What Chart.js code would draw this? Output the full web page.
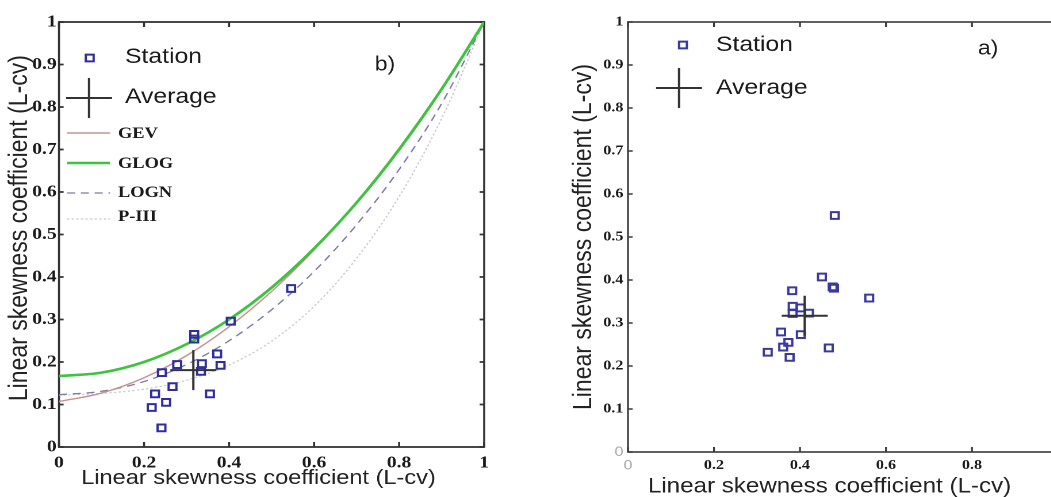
<!DOCTYPE html>
<html>
<head>
<meta charset="utf-8">
<script src="https://cdn.jsdelivr.net/npm/chart.js@4.4.1/dist/chart.umd.min.js"></script>
<style>
  html, body { margin: 0; padding: 0; background: #fff; }
  body { width: 1051px; height: 497px; overflow: hidden; position: relative; }
  /* the original figure is stretched sideways, so the canvases are too */
  canvas { position: absolute; top: 0; transform-origin: 0 0; transform: scaleX(1.15); }
  #chartB { left: 0; }
  #chartA { left: 540px; }
</style>
</head>
<body>
<canvas id="chartB" width="452" height="497"></canvas>
<canvas id="chartA" width="522" height="497"></canvas>
<script>
// theoretical curves of panel b), read every 0.1 along x
const curveX = [0, 0.1, 0.2, 0.3, 0.4, 0.5, 0.6, 0.7, 0.8, 0.9, 1];
const gevY  = [0.107, 0.127, 0.163, 0.215, 0.283, 0.366, 0.464, 0.576, 0.703, 0.844, 1];
const glogY = [0.167, 0.175, 0.200, 0.242, 0.300, 0.375, 0.467, 0.575, 0.700, 0.842, 1];
const lognY = [0.123, 0.131, 0.154, 0.194, 0.250, 0.323, 0.413, 0.523, 0.653, 0.808, 1];
const p3Y   = [0.122, 0.126, 0.136, 0.157, 0.193, 0.249, 0.331, 0.444, 0.589, 0.773, 1];

// stations of panel b)
const stationBx = [0.404, 0.318, 0.318, 0.372, 0.278, 0.336, 0.380, 0.334, 0.242, 0.267, 0.226, 0.355, 0.252, 0.218, 0.241, 0.546];
const stationBy = [0.296, 0.265, 0.254, 0.219, 0.194, 0.196, 0.192, 0.178, 0.175, 0.142, 0.125, 0.125, 0.105, 0.093, 0.045, 0.373];
const averageB = [0.316, 0.181];

// stations of panel a)
const stationAx = [0.451, 0.476, 0.479, 0.561, 0.382, 0.383, 0.402, 0.383, 0.421, 0.356, 0.402, 0.373, 0.361, 0.325, 0.376, 0.467, 0.481];
const stationAy = [0.407, 0.384, 0.381, 0.358, 0.375, 0.339, 0.335, 0.322, 0.323, 0.279, 0.273, 0.255, 0.244, 0.232, 0.220, 0.242, 0.550];
const averageA = [0.411, 0.317];

const xTicksStep = 0.2;
const yTicksStep = 0.1;
const axisTitle = 'Linear skewness coefficient (L-cv)';

const sans = '"Liberation Sans", Arial, sans-serif';
const serif = '"Liberation Serif", "Times New Roman", serif';

const fmt = v => v === 0 ? '0' : v === 1 ? '1' : v.toFixed(1);
const pairs = (xs, ys) => xs.map((x, i) => ({ x: x, y: ys[i] }));
const isZero = t => !!(t && t.tick && t.tick.value === 0);

// box round the plot with MATLAB style inward ticks
const framePlugin = {
    id: 'frame',
    beforeDatasetsDraw(chart, args, o) {
        const { ctx, chartArea: a, scales: { x, y } } = chart;
        ctx.save();
        ctx.strokeStyle = o.color;
        ctx.lineWidth = o.width;
        ctx.strokeRect(a.left, a.top, a.right - a.left, a.bottom - a.top);
        ctx.beginPath();
        x.ticks.forEach(t => {
            const px = x.getPixelForValue(t.value);
            ctx.moveTo(px, a.bottom); ctx.lineTo(px, a.bottom - 5);
            ctx.moveTo(px, a.top); ctx.lineTo(px, a.top + 5);
        });
        y.ticks.forEach(t => {
            const py = y.getPixelForValue(t.value);
            ctx.moveTo(a.left, py); ctx.lineTo(a.left + 4, py);
            ctx.moveTo(a.right, py); ctx.lineTo(a.right - 4, py);
        });
        ctx.stroke();
        ctx.restore();
    }
};

// legend drawn inside the plot, plus the panel letter
const keyPlugin = {
    id: 'key',
    afterDraw(chart, args, o) {
        const ctx = chart.ctx;
        ctx.save();
        o.items.forEach(it => {
            const ds = chart.data.datasets[it.ds];
            ctx.strokeStyle = ds.borderColor;
            ctx.lineWidth = ds.borderWidth;
            ctx.setLineDash(ds.borderDash || []);
            ctx.beginPath();
            if (ds.pointStyle === 'rect') {
                const h = ds.pointRadius * Math.SQRT1_2;
                ctx.rect(it.mx - h, it.y - h, 2 * h, 2 * h);
            } else if (ds.pointStyle === 'cross') {
                const r = ds.pointRadius;
                ctx.moveTo(it.mx - r, it.y); ctx.lineTo(it.mx + r, it.y);
                ctx.moveTo(it.mx, it.y - r); ctx.lineTo(it.mx, it.y + r);
            } else {
                ctx.moveTo(o.lineFrom, it.y); ctx.lineTo(o.lineTo, it.y);
            }
            ctx.stroke();
            ctx.setLineDash([]);
            ctx.fillStyle = '#1a1a1a';
            ctx.font = it.font;
            ctx.textBaseline = 'middle';
            ctx.textAlign = 'left';
            ctx.fillText(ds.label, it.tx, it.ty);
        });
        ctx.font = o.tagFont;
        ctx.textAlign = 'center';
        ctx.textBaseline = 'middle';
        ctx.fillText(o.tag, o.tagX, o.tagY);
        ctx.restore();
    }
};

function axes(c) {
    const tickColor = t => (c.grayZero && isZero(t)) ? '#a8a8a8' : '#1a1a1a';
    const tickFont = t => (c.grayZero && isZero(t))
        ? { family: sans, size: c.tickSize }
        : { family: serif, size: c.tickSize, weight: 'bold' };
    return {
        x: {
            type: 'linear', min: 0, max: 1,
            afterFit: s => { s.height = c.xHeight; },
            grid: { display: false, drawTicks: false },
            border: { display: false },
            ticks: {
                stepSize: xTicksStep, autoSkip: false, maxRotation: 0, padding: c.xPad,
                color: tickColor, font: tickFont, callback: fmt
            },
            title: {
                display: true, text: axisTitle + c.xTitleTail, color: '#222',
                font: { family: sans, size: c.titleSize, lineHeight: 1 },
                padding: { top: 0, bottom: c.xTitlePad }
            }
        },
        y: {
            type: 'linear', min: 0, max: 1,
            afterFit: s => { s.width = c.yWidth; },
            grid: { display: false, drawTicks: false },
            border: { display: false },
            ticks: {
                stepSize: yTicksStep, autoSkip: false, padding: c.yPad,
                color: tickColor, font: tickFont, callback: fmt
            },
            title: {
                display: true, text: c.yTitleHead + axisTitle, color: '#222',
                font: { family: sans, size: c.yTitleSize, lineHeight: 1 },
                padding: { top: c.yTitlePad, bottom: 0 }
            }
        }
    };
}

const stationStyle = {
    label: 'Station', pointStyle: 'rect', pointRadius: 4.8, borderWidth: 2,
    borderColor: '#2f2f9c', backgroundColor: 'rgba(0,0,0,0)'
};
const averageStyle = {
    label: 'Average', pointStyle: 'cross', pointRadius: 20, borderWidth: 2,
    borderColor: '#333333', backgroundColor: '#333333'
};
const curve = (label, ys, color, width, dash) => ({
    type: 'line', label: label, data: pairs(curveX, ys),
    borderColor: color, borderWidth: width, borderDash: dash,
    pointRadius: 0, fill: false, cubicInterpolationMode: 'monotone'
});

const common = {
    responsive: false, animation: false, devicePixelRatio: 2,
    events: []
};

// panel b)
new Chart(document.getElementById('chartB').getContext('2d'), {
    type: 'scatter',
    data: {
        datasets: [
            Object.assign({ data: [{ x: averageB[0], y: averageB[1] }] }, averageStyle),
            Object.assign({ data: pairs(stationBx, stationBy) }, stationStyle),
            curve('GLOG', glogY, '#3fc23f', 2.6, []),
            curve('GEV', gevY, '#c99191', 1.4, []),
            curve('LOGN', lognY, '#7b7ba6', 1.3, [7, 5]),
            curve('P-III', p3Y, '#c9c9c9', 1.2, [2, 2])
        ]
    },
    options: Object.assign({}, common, {
        layout: { padding: { top: 21, right: 31, bottom: 0, left: 0 } },
        scales: axes({
            xHeight: 50, yWidth: 51.3, xPad: 6, yPad: 2, tickSize: 17, titleSize: 20.5, yTitleSize: 23,
            xTitlePad: 8.5, yTitlePad: 5.5, xTitleTail: '    ', yTitleHead: '  ', grayZero: false
        }),
        plugins: {
            legend: { display: false },
            tooltip: { enabled: false },
            frame: { color: '#333333', width: 1.8 },
            key: {
                lineFrom: 58.3, lineTo: 95.7,
                items: [
                    { ds: 1, mx: 78, y: 58, tx: 108.7, ty: 57, font: '21.5px ' + sans },
                    { ds: 0, mx: 77.4, y: 98, tx: 108.7, ty: 97, font: '21.5px ' + sans },
                    { ds: 3, y: 133, tx: 102.6, ty: 134, font: 'bold 16px ' + serif },
                    { ds: 2, y: 163, tx: 102.6, ty: 164, font: 'bold 16px ' + serif },
                    { ds: 4, y: 193, tx: 102.6, ty: 193, font: 'bold 16px ' + serif },
                    { ds: 5, y: 219, tx: 102.6, ty: 217, font: 'bold 16px ' + serif }
                ],
                tag: 'b)', tagX: 334.8, tagY: 65, tagFont: '20px ' + sans
            }
        }
    }),
    plugins: [framePlugin, keyPlugin]
});

// panel a)
new Chart(document.getElementById('chartA').getContext('2d'), {
    type: 'scatter',
    data: {
        datasets: [
            Object.assign({ data: [{ x: averageA[0], y: averageA[1] }] }, averageStyle),
            Object.assign({ data: pairs(stationAx, stationAy) }, stationStyle, { borderColor: '#3a3a9e' })
        ]
    },
    options: Object.assign({}, common, {
        layout: { padding: { top: 16, right: 71.6, bottom: 0, left: 0 } },
        scales: axes({
            xHeight: 45, yWidth: 76.5, xPad: 5, yPad: 4, tickSize: 14, titleSize: 21, yTitleSize: 23,
            xTitlePad: 0, yTitlePad: 26.5, xTitleTail: '    ', yTitleHead: '', grayZero: true
        }),
        plugins: {
            legend: { display: false },
            tooltip: { enabled: false },
            frame: { color: '#3a3a3a', width: 1.6 },
            key: {
                lineFrom: 0, lineTo: 0,
                items: [
                    { ds: 1, mx: 124.3, y: 45, tx: 153, ty: 45, font: '21.5px ' + sans },
                    { ds: 0, mx: 120.9, y: 88, tx: 153, ty: 88, font: '21.5px ' + sans }
                ],
                tag: 'a)', tagX: 389.6, tagY: 49, tagFont: '20px ' + sans
            }
        }
    }),
    plugins: [framePlugin, keyPlugin]
});
</script>
</body>
</html>
